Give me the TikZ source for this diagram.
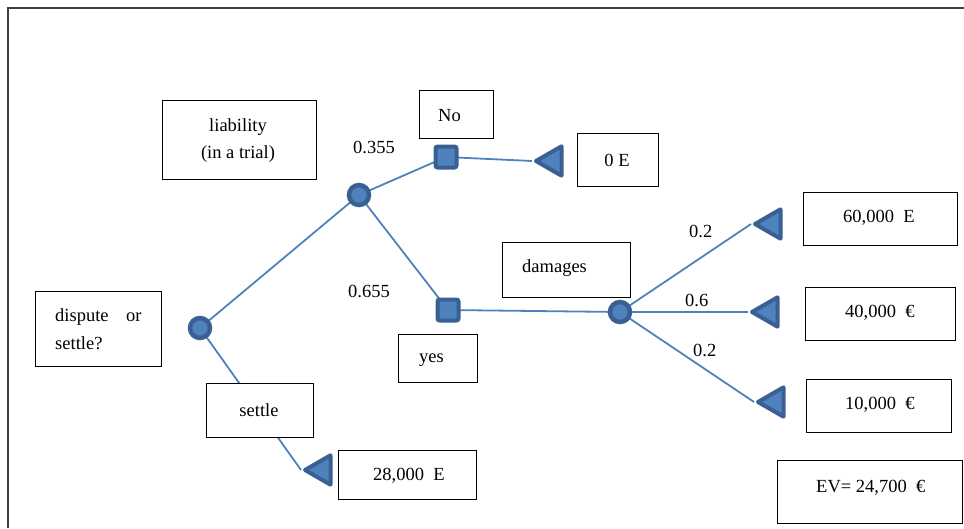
\documentclass[tikz,border=0pt]{standalone}
\usepackage{fontspec}
\setmainfont{Liberation Serif}
\usetikzlibrary{shapes.geometric,backgrounds}
\definecolor{branch}{HTML}{4F81BD}
\definecolor{nodeedge}{HTML}{3A5F92}
\definecolor{framegray}{HTML}{3F3F3F}
\begin{document}
\begin{tikzpicture}[x=1pt,y=-1pt,
  box/.style n args={2}{draw=black,line width=0.9pt,fill=white,inner sep=0pt,
    minimum width=#1pt,minimum height=#2pt,anchor=north west},
  txt/.style={font=\fontsize{18.5}{22}\selectfont,inner sep=0pt,anchor=west},
  ctxt/.style={txt,anchor=center},
  chance/.style={circle,draw=nodeedge,fill=branch,line width=4.5pt,
    minimum size=20pt,inner sep=0pt},
  decision/.style={rectangle,draw=nodeedge,fill=branch,line width=4pt,
    minimum size=21pt,inner sep=0pt,rounded corners=2pt},
  payoff/.style={regular polygon,regular polygon sides=3,shape border rotate=90,
    draw=nodeedge,fill=branch,line width=4pt,line join=round,
    minimum size=34pt,inner sep=0pt},
  edge/.style={draw=branch,line width=1.8pt}]
\useasboundingbox (0,0) rectangle (964,528);

% page frame
\draw[framegray,line width=1.6pt] (8,528) -- (8,8) -- (964,8);

% text boxes
\node[box={154}{79}] (bLiab) at (162,100) {};
\node[box={74}{48}] (bNo) at (419,90) {};
\node[box={81}{53}] (bZero) at (577,133) {};
\node[box={128}{55}] (bDamages) at (502,242) {};
\node[box={79}{48}] (bYes) at (398,334) {};
\node[box={126}{75}] (bDispute) at (35,291) {};
\node[box={107}{54}] (bSettle) at (206,383) {};
\node[box={154}{53}] (b60) at (803,192) {};
\node[box={150}{53}] (b40) at (805,287) {};
\node[box={145}{53}] (b10) at (806,379) {};
\node[box={138}{49}] (b28) at (338,450) {};
\node[box={185}{63}] (bEV) at (777,460) {};

% box texts
\node[ctxt] (tLiab) at (238,127) {liability};
\node[ctxt] (tTrial) at (238,154) {(in a trial)};
\node[txt] (tNo) at (438,116) {No};
\node[ctxt] (tZero) at (617,160) {0 E};
\node[txt] (tDamages) at (522,268) {damages};
\node[txt] (tYes) at (419,360) {yes};
\node[txt] (tDispute) at (55,317) {dispute};
\node[txt] (tOr) at (126,317) {or};
\node[txt] (tSettleQ) at (55,343) {settle?};
\node[ctxt] (tSettle) at (259,410) {settle};
\node[txt] (t60) at (843,218) {60,000~~E};
\node[txt] (t40) at (845,313) {40,000~~€};
\node[txt] (t10) at (845,405) {10,000~~€};
\node[txt] (t28) at (373,476) {28,000~~E};
\node[txt] (tEV) at (816,488) {EV= 24,700~~€};

% branch probabilities
\node[txt] (p355) at (353,147) {0.355};
\node[txt] (p655) at (348,291) {0.655};
\node[txt] (p2a) at (689,231) {0.2};
\node[txt] (p6) at (685,300) {0.6};
\node[txt] (p2b) at (693,350) {0.2};

% tree nodes
\node[chance] (c1) at (200,328) {};
\node[chance] (c2) at (359,195) {};
\node[chance] (c3) at (620,312) {};
\node[decision] (s1) at (446,157) {};
\node[decision] (s2) at (448,310) {};
\node[payoff] (t0) at (553,161) {};
\node[payoff] (t60) at (772,224) {};
\node[payoff] (t40) at (769,312) {};
\node[payoff] (t10) at (775,402) {};
\node[payoff] (t28) at (322,470) {};

% branches
\begin{pgfonlayer}{background}
\draw[edge] (c1.center) -- (c2.center);
\draw[edge] (c1.center) -- (t28.corner 1);
\draw[edge] (c2.center) -- (s1.center);
\draw[edge] (c2.center) -- (s2.center);
\draw[edge] (s1.center) -- (t0.corner 1);
\draw[edge] (s2.center) -- (c3.center);
\draw[edge] (c3.center) -- (t60.corner 1);
\draw[edge] (c3.center) -- (t40.corner 1);
\draw[edge] (c3.center) -- (t10.corner 1);
\end{pgfonlayer}
\end{tikzpicture}
\end{document}
